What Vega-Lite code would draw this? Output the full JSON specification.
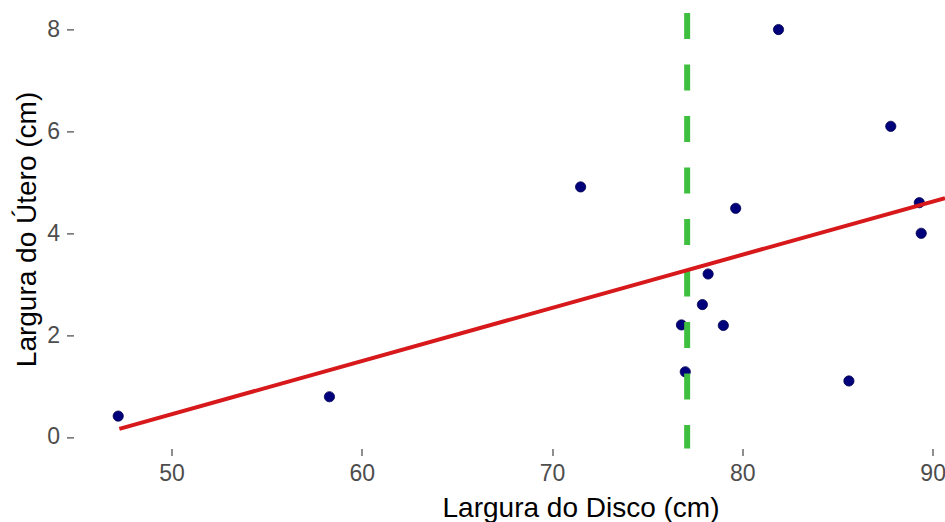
{
  "$schema": "https://vega.github.io/schema/vega-lite/v6.json",
  "autosize": {"type": "none"},
  "width": 871.5,
  "height": 439.1,
  "padding": {"left": 73.5, "top": 9.4, "right": 0, "bottom": 73.5},
  "background": "white",
  "config": {
    "view": {"stroke": null},
    "font": "Liberation Sans",
    "axis": {
      "grid": false,
      "domain": false,
      "ticks": true,
      "tickSize": 7,
      "tickWidth": 1.2,
      "tickColor": "#444444",
      "labelFont": "Liberation Sans",
      "labelFontSize": 23,
      "labelColor": "#4d4d4d",
      "labelPadding": 7,
      "titleFont": "Liberation Sans",
      "titleFontSize": 28,
      "titleFontWeight": "normal",
      "titleColor": "#000000"
    }
  },
  "datasets": {
    "pontos": [
      {"disco": 47.2, "utero": 0.41},
      {"disco": 58.3, "utero": 0.79},
      {"disco": 71.5, "utero": 4.91},
      {"disco": 76.8, "utero": 2.2},
      {"disco": 77.0, "utero": 1.28},
      {"disco": 77.9, "utero": 2.6},
      {"disco": 78.2, "utero": 3.2},
      {"disco": 79.0, "utero": 2.19},
      {"disco": 79.65, "utero": 4.49},
      {"disco": 81.9, "utero": 8.0},
      {"disco": 85.6, "utero": 1.1},
      {"disco": 87.8, "utero": 6.1},
      {"disco": 89.3, "utero": 4.6},
      {"disco": 89.4, "utero": 4.0}
    ],
    "ajuste": [
      {"disco": 47.26, "utero": 0.16},
      {"disco": 90.65, "utero": 4.69}
    ],
    "media": [
      {"disco": 77.1}
    ]
  },
  "layer": [
    {
      "data": {"name": "pontos"},
      "mark": {"type": "circle", "color": "#00007a", "opacity": 1, "size": 105, "stroke": "#000050", "strokeWidth": 0.8, "clip": true},
      "encoding": {
        "x": {
          "field": "disco",
          "type": "quantitative",
          "scale": {"domain": [44.85, 90.65], "nice": false, "zero": false},
          "axis": {
            "values": [50, 60, 70, 80, 90],
            "title": "Largura do Disco (cm)",
            "titleX": 507,
            "titleY": 68,
            "titleBaseline": "alphabetic"
          }
        },
        "y": {
          "field": "utero",
          "type": "quantitative",
          "scale": {"domain": [-0.226, 8.395], "nice": false, "zero": false},
          "axis": {
            "values": [0, 2, 4, 6, 8],
            "title": "Largura do Útero (cm)",
            "titleX": -38.5,
            "titleBaseline": "alphabetic"
          }
        }
      }
    },
    {
      "data": {"name": "media"},
      "mark": {"type": "rule", "color": "#3fbf3f", "strokeWidth": 6, "strokeDash": [26, 25.5], "strokeDashOffset": 48},
      "encoding": {
        "x": {"field": "disco", "type": "quantitative"}
      }
    },
    {
      "data": {"name": "ajuste"},
      "mark": {"type": "line", "color": "#d7191c", "strokeWidth": 4, "clip": true},
      "encoding": {
        "x": {"field": "disco", "type": "quantitative"},
        "y": {"field": "utero", "type": "quantitative"}
      }
    }
  ]
}
